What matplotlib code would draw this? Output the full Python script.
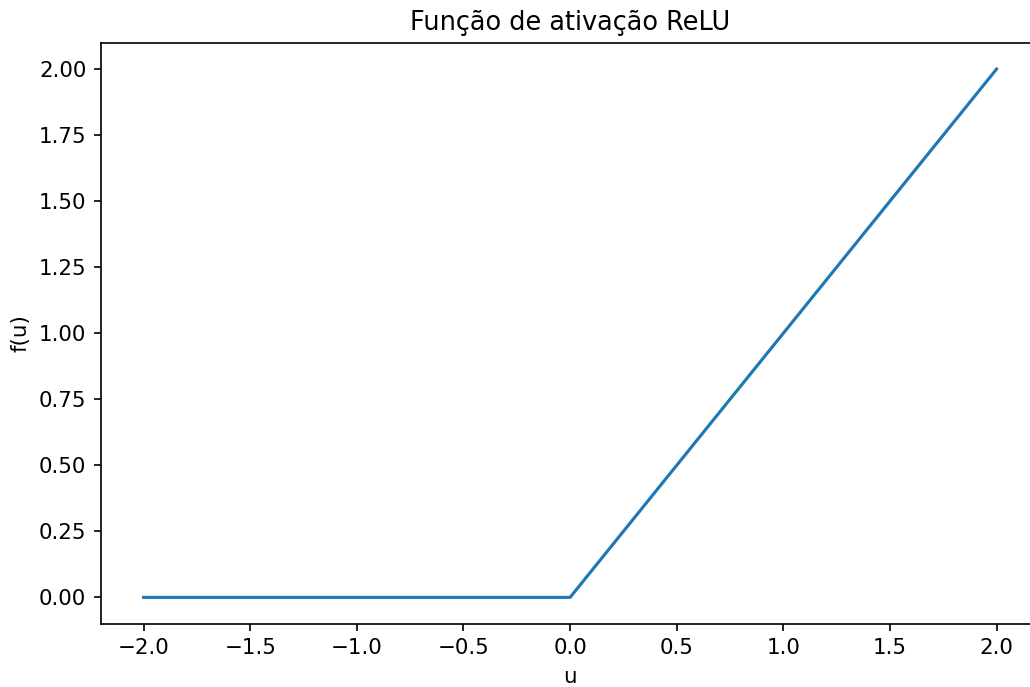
import matplotlib
matplotlib.use("Agg")
import matplotlib.pyplot as plt

# ReLU sampled at its breakpoints
u = [-2.0, 0.0, 2.0]
f_u = [0.0, 0.0, 2.0]

plt.rcParams["font.size"] = 10.25

fig = plt.figure(figsize=(1030 / 150, 687 / 150), dpi=150)
# right spine falls just outside the saved picture, as in the reference
ax = fig.add_axes([0.098, 0.092, 0.911, 0.846])
ax.plot(u, f_u, color="#1f77b4", linewidth=1.5)
ax.set_title("Função de ativação ReLU")
ax.set_xlabel("u")
ax.set_ylabel("f(u)")
ax.set_yticks([0.0, 0.25, 0.5, 0.75, 1.0, 1.25, 1.5, 1.75, 2.0])
ax.yaxis.set_major_formatter(matplotlib.ticker.FormatStrFormatter("%.2f"))

fig.savefig("out.png", dpi=150)
